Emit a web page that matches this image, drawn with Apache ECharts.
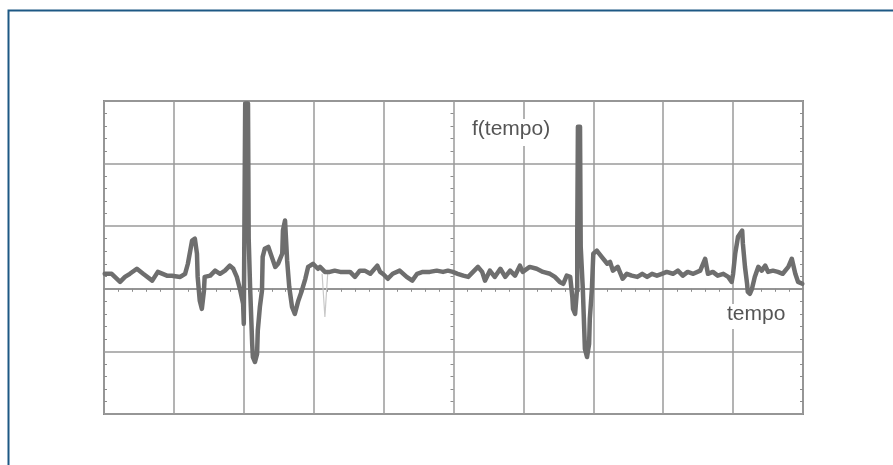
<!DOCTYPE html>
<html>
<head>
<meta charset="utf-8">
<script src="https://cdn.jsdelivr.net/npm/echarts@6/dist/echarts.min.js"></script>
<style>
html,body{margin:0;padding:0;background:#fff;}
#chart{width:893px;height:465px;}
</style>
</head>
<body>
<div id="chart"></div>
<script>
// time in screen divisions (0..10), signal in vertical divisions
var timeValues = [
0.01,0.11,0.23,0.30,0.37,0.47,0.56,0.69,0.77,0.90,0.97,1.09,1.16,1.20,1.26,1.30,1.33,1.34,1.37,1.40,
1.43,1.44,1.52,1.59,1.66,1.73,1.80,1.85,1.90,1.95,1.99,2.00,2.02,2.06,2.07,2.09,2.12,2.13,2.16,2.19,
2.20,2.23,2.26,2.27,2.30,2.35,2.40,2.45,2.49,2.55,2.56,2.59,2.62,2.65,2.69,2.73,2.78,2.83,2.88,2.92,
2.95,2.99,3.06,3.09,3.16,3.23,3.30,3.38,3.45,3.52,3.59,3.66,3.73,3.81,3.91,3.95,3.99,4.06,4.13,4.23,
4.33,4.41,4.48,4.56,4.66,4.76,4.85,4.92,4.99,5.06,5.14,5.21,5.28,5.35,5.41,5.45,5.52,5.59,5.67,5.74,
5.81,5.88,5.95,5.99,6.09,6.19,6.28,6.38,6.45,6.52,6.57,6.62,6.67,6.70,6.71,6.74,6.77,6.77,6.78,6.81,
6.82,6.85,6.87,6.88,6.91,6.94,6.95,6.98,7.00,7.05,7.12,7.20,7.24,7.28,7.35,7.42,7.48,7.55,7.63,7.70,
7.77,7.84,7.91,7.98,8.05,8.14,8.21,8.28,8.35,8.43,8.53,8.60,8.64,8.71,8.78,8.86,8.93,8.98,9.00,9.03,
9.07,9.13,9.14,9.17,9.20,9.21,9.24,9.27,9.31,9.36,9.41,9.46,9.50,9.57,9.64,9.71,9.79,9.84,9.89,9.93,
9.99
];
var signalValues = [
0.24,0.24,0.11,0.19,0.24,0.32,0.24,0.13,0.27,0.21,0.21,0.19,0.24,0.40,0.77,0.80,0.56,0.19,-0.19,-0.32,
-0.03,0.19,0.21,0.29,0.24,0.29,0.37,0.32,0.19,-0.03,-0.24,-0.56,2.96,2.96,0.80,0.03,-0.88,-1.09,-1.17,-1.04,
-0.67,-0.29,-0.03,0.51,0.64,0.67,0.51,0.35,0.40,0.56,0.93,1.09,0.45,0.03,-0.29,-0.40,-0.19,-0.03,0.16,0.35,
0.37,0.40,0.32,0.35,0.27,0.27,0.29,0.27,0.27,0.27,0.19,0.29,0.29,0.24,0.37,0.27,0.24,0.16,0.24,0.29,
0.19,0.13,0.24,0.27,0.27,0.29,0.27,0.29,0.27,0.24,0.21,0.19,0.27,0.35,0.27,0.13,0.29,0.19,0.32,0.19,
0.29,0.21,0.37,0.27,0.35,0.32,0.27,0.24,0.19,0.11,0.08,0.21,0.19,-0.13,-0.32,-0.40,0.03,0.80,2.59,2.59,
0.67,0.00,-0.64,-0.96,-1.09,-0.88,-0.48,0.00,0.56,0.61,0.51,0.40,0.43,0.29,0.35,0.16,0.24,0.21,0.19,0.24,
0.19,0.24,0.21,0.24,0.27,0.24,0.29,0.21,0.27,0.24,0.29,0.48,0.24,0.27,0.21,0.24,0.19,0.11,0.24,0.56,
0.83,0.93,0.72,0.35,0.08,-0.05,-0.08,0.00,0.19,0.35,0.29,0.37,0.27,0.29,0.27,0.24,0.35,0.48,0.24,0.11,
0.08
];
// faint ghost trace
var ghostTime = [3.12, 3.16, 3.20];
var ghostValues = [0.24, -0.45, 0.24];

var xRange = [0, 10];
var yRange = [-2, 3];
var yLabel = 'f(tempo)';
var xLabel = 'tempo';

function pairs(xs, ys) {
  var out = [];
  for (var i = 0; i < xs.length; i++) out.push([xs[i], ys[i]]);
  return out;
}

var gridCol = '#9a9a9a';
var tickCol = '#8c8c8c';
var chart = echarts.init(document.getElementById('chart'), null, {renderer: 'canvas'});

function yAxisDef(pos, offset, inside) {
  return {
    type: 'value', min: yRange[0], max: yRange[1], interval: 1, position: pos, offset: offset,
    axisLine: {show: false}, axisLabel: {show: false},
    axisTick: {show: false, inside: inside},
    minorTick: {show: true, splitNumber: 5, length: 3, lineStyle: {color: tickCol, width: 1}},
    splitLine: {show: false}
  };
}

var y0 = yAxisDef('left', 0, true);
y0.splitLine = {show: true, lineStyle: {color: gridCol, width: 1.5}};

chart.setOption({
  animation: false,
  backgroundColor: '#ffffff',
  grid: {left: 104, top: 101, width: 699, height: 313, show: true, borderColor: '#8a8a8a', borderWidth: 2, backgroundColor: 'transparent'},
  xAxis: [{
    type: 'value', min: xRange[0], max: xRange[1], interval: 1, position: 'bottom',
    axisLine: {show: true, onZero: true, lineStyle: {color: '#8a8a8a', width: 1.5}},
    axisLabel: {show: false}, axisTick: {show: false},
    minorTick: {show: true, splitNumber: 5, length: 3, lineStyle: {color: tickCol, width: 1}},
    splitLine: {show: true, lineStyle: {color: gridCol, width: 1.5}}
  }],
  yAxis: [y0, yAxisDef('right', 0, true), yAxisDef('left', -349.5, false)],
  series: [
    {
      type: 'line', name: 'ghost', data: pairs(ghostTime, ghostValues), symbol: 'none',
      lineStyle: {color: '#c8c8c8', width: 1.2}, z: 3
    },
    {
      type: 'line', name: yLabel, data: pairs(timeValues, signalValues), symbol: 'none',
      lineStyle: {color: '#6e6e6e', width: 4.5, join: 'round', cap: 'round'}, z: 4
    }
  ],
  graphic: [
    {type: 'rect', left: 6, top: 8, z: 0, silent: true,
     shape: {x: 0, y: 0, width: 1000, height: 1000},
     style: {fill: 'none', stroke: '#1d5884', lineWidth: 2}},
    {type: 'text', left: 470, top: 119, z: 100,
     style: {text: yLabel, font: '21px "Liberation Sans", Arial, sans-serif', fill: '#555555',
             backgroundColor: '#ffffff', padding: [0, 2, 6, 2]}},
    {type: 'text', left: 725, top: 304, z: 100,
     style: {text: xLabel, font: '21px "Liberation Sans", Arial, sans-serif', fill: '#555555',
             backgroundColor: '#ffffff', padding: [0, 2, 4, 2]}}
  ]
});
</script>
</body>
</html>
